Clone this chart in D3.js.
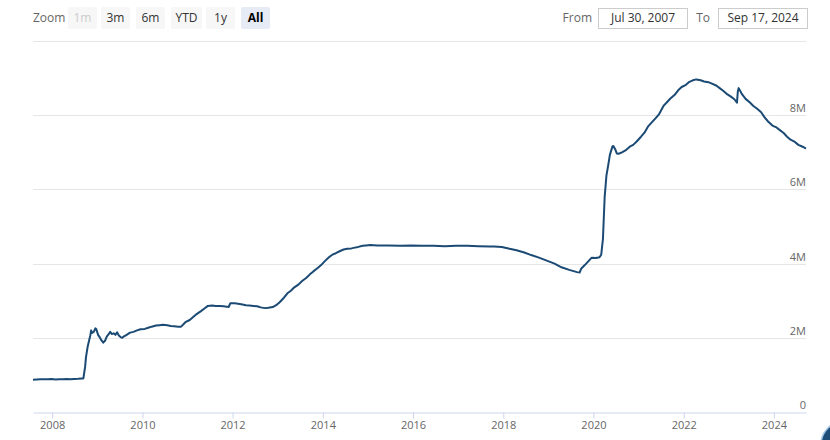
<!DOCTYPE html>
<html>
<head>
<meta charset="utf-8">
<script src="https://cdn.jsdelivr.net/npm/d3@7"></script>
<style>
  html, body { margin: 0; padding: 0; background: #ffffff; overflow: hidden; }
  svg { display: block; font-family: "Open Sans", "DejaVu Sans", sans-serif; }
</style>
</head>
<body>
<svg id="chart" width="830" height="440"></svg>
<script>
// ---- Data: Fed total assets (millions of USD) ----
const dates = [
  "2007-07-30","2007-08-29","2007-09-26","2007-10-31","2007-11-28","2007-12-26",
  "2008-01-30","2008-02-27","2008-03-26","2008-04-30","2008-05-28","2008-06-25",
  "2008-07-30","2008-08-27","2008-09-10","2008-09-17","2008-09-24","2008-10-01",
  "2008-10-15","2008-10-29","2008-11-05","2008-11-12","2008-11-19","2008-12-03",
  "2008-12-17","2008-12-24","2009-01-07","2009-01-21","2009-02-04","2009-02-18",
  "2009-03-04","2009-03-18","2009-04-01","2009-04-15","2009-04-29","2009-05-13",
  "2009-05-27","2009-06-10","2009-06-24","2009-07-08","2009-07-22","2009-08-05",
  "2009-08-26","2009-09-23","2009-10-21","2009-11-18","2009-12-16",
  "2010-01-20","2010-02-17","2010-03-17","2010-04-21","2010-05-19","2010-06-16",
  "2010-07-21","2010-08-18","2010-09-15","2010-10-20","2010-11-10","2010-12-15",
  "2011-01-19","2011-02-16","2011-03-16","2011-04-20","2011-05-18","2011-06-15",
  "2011-07-20","2011-08-17","2011-09-21","2011-10-19","2011-11-16","2011-11-30",
  "2011-12-14","2012-01-18","2012-02-15","2012-03-21","2012-04-18","2012-05-16",
  "2012-06-20","2012-07-18","2012-08-15","2012-09-19","2012-10-17","2012-11-21",
  "2012-12-19","2013-01-16","2013-02-20","2013-03-20","2013-04-17","2013-05-15",
  "2013-06-19","2013-07-17","2013-08-21","2013-09-18","2013-10-16","2013-11-20",
  "2013-12-18","2014-01-15","2014-02-19","2014-03-19","2014-04-16","2014-05-21",
  "2014-06-18","2014-07-16","2014-08-20","2014-09-17","2014-10-15","2014-11-19",
  "2014-12-17","2015-01-21","2015-03-18","2015-06-17","2015-09-16","2015-12-16",
  "2016-03-16","2016-06-15","2016-09-14","2016-12-14","2017-03-15","2017-06-14",
  "2017-09-13","2017-10-18","2017-12-20","2018-02-21","2018-04-18","2018-06-20",
  "2018-08-15","2018-10-17","2018-12-19","2019-02-20","2019-04-17","2019-06-19",
  "2019-08-21","2019-09-11","2019-09-25","2019-10-23","2019-11-20","2019-12-18",
  "2020-01-22","2020-02-19","2020-03-04","2020-03-18","2020-03-25","2020-04-01",
  "2020-04-08","2020-04-15","2020-04-29","2020-05-13","2020-06-03","2020-06-10",
  "2020-06-24","2020-07-08","2020-07-22","2020-08-19","2020-09-16","2020-10-21",
  "2020-11-18","2020-12-16","2021-01-20","2021-02-17","2021-03-17","2021-04-21",
  "2021-05-19","2021-06-16","2021-07-21","2021-08-18","2021-09-15","2021-10-20",
  "2021-11-17","2021-12-15","2022-01-19","2022-02-16","2022-03-16","2022-04-13",
  "2022-05-18","2022-06-15","2022-07-20","2022-08-17","2022-09-21","2022-10-19",
  "2022-11-16","2022-12-21","2023-01-18","2023-02-15","2023-03-08","2023-03-15",
  "2023-03-22","2023-04-19","2023-05-17","2023-06-21","2023-07-19","2023-08-16",
  "2023-09-20","2023-10-18","2023-11-15","2023-12-20","2024-01-17","2024-02-21",
  "2024-03-20","2024-04-17","2024-05-15","2024-06-19","2024-07-17","2024-08-21",
  "2024-09-11","2024-09-17"
];
const totalAssets = [
  869000,875000,880000,885000,880000,888000,
  878000,886000,885000,889000,885000,890000,
  894000,903000,906000,1065000,1215000,1480000,
  1767000,1970000,2064000,2200000,2130000,2160000,
  2256000,2230000,2080000,2010000,1930000,1870000,
  1920000,2030000,2090000,2160000,2100000,2120000,
  2080000,2150000,2060000,2020000,2000000,2040000,
  2080000,2140000,2160000,2200000,2230000,
  2240000,2270000,2300000,2330000,2340000,2350000,
  2340000,2320000,2310000,2300000,2300000,2420000,
  2480000,2560000,2640000,2720000,2790000,2860000,
  2870000,2860000,2860000,2850000,2840000,2830000,
  2930000,2930000,2920000,2900000,2880000,2870000,
  2860000,2850000,2820000,2800000,2810000,2830000,
  2880000,2960000,3080000,3200000,3270000,3360000,
  3440000,3530000,3620000,3710000,3790000,3880000,
  3960000,4060000,4170000,4240000,4280000,4340000,
  4380000,4400000,4410000,4430000,4450000,4480000,
  4490000,4500000,4490000,4490000,4480000,4490000,
  4480000,4480000,4470000,4480000,4480000,4470000,
  4460000,4460000,4450000,4400000,4360000,4300000,
  4230000,4160000,4080000,4000000,3900000,3830000,
  3770000,3760000,3870000,3960000,4060000,4160000,
  4150000,4170000,4240000,4670000,5250000,5810000,
  6080000,6370000,6640000,6930000,7160000,7170000,
  7090000,6970000,6960000,7000000,7050000,7150000,
  7200000,7290000,7420000,7530000,7690000,7820000,
  7920000,8030000,8250000,8350000,8450000,8550000,
  8670000,8760000,8820000,8900000,8940000,8965000,
  8940000,8910000,8890000,8850000,8800000,8730000,
  8660000,8560000,8500000,8430000,8340000,8640000,
  8730000,8560000,8440000,8340000,8250000,8180000,
  8080000,7940000,7830000,7720000,7680000,7590000,
  7520000,7420000,7340000,7280000,7200000,7150000,
  7110000,7100000
];
const yTicks = [0, 2000000, 4000000, 6000000, 8000000, 10000000];
const yTickLabels = ["0", "2M", "4M", "6M", "8M", ""];
const xTickYears = [2008, 2010, 2012, 2014, 2016, 2018, 2020, 2022, 2024];
const zoomButtons = ["1m", "3m", "6m", "YTD", "1y", "All"];
const fromDate = "Jul 30, 2007";
const toDate = "Sep 17, 2024";

// ---- Drawing ----
const svg = d3.select("#chart");
const parse = d3.timeParse("%Y-%m-%d");
const series = dates.map((d, i) => ({ date: parse(d), value: totalAssets[i] }));

const x = d3.scaleTime()
  .domain([parse("2007-07-30"), parse("2024-09-17")])
  .range([33, 806]);
const y = d3.scaleLinear()
  .domain([0, 10000000])
  .range([412, 41]);

// grid lines
const grid = svg.append("g");
grid.selectAll("line")
  .data(yTicks.filter(v => v > 0))
  .enter().append("line")
  .attr("x1", 33).attr("x2", 806)
  .attr("y1", d => Math.round(y(d)) + 0.5)
  .attr("y2", d => Math.round(y(d)) + 0.5)
  .attr("stroke", "#e6e6e6").attr("stroke-width", 1);

// y labels (right side, above grid line)
svg.append("g").selectAll("text")
  .data(yTicks)
  .enter().append("text")
  .attr("x", 806)
  .attr("y", d => Math.round(y(d)) - 3)
  .attr("text-anchor", "end")
  .attr("font-size", 11)
  .attr("fill", "#666666")
  .text((d, i) => yTickLabels[i]);

// x axis
const xAxis = d3.axisBottom(x)
  .tickValues(xTickYears.map(yr => new Date(yr, 0, 1)))
  .tickFormat(d3.timeFormat("%Y"))
  .tickSize(6)
  .tickSizeOuter(0);
const xg = svg.append("g")
  .attr("transform", "translate(0,412.5)")
  .call(xAxis);
xg.select(".domain").attr("stroke", "#ccd6eb");
xg.selectAll(".tick line").attr("stroke", "#ccd6eb");
xg.selectAll(".tick text")
  .attr("fill", "#666666")
  .attr("font-size", 11)
  .attr("font-family", "\"Open Sans\", sans-serif")
  .attr("dy", "0.71em")
  .attr("y", 9);

// line
const line = d3.line()
  .x(d => x(d.date))
  .y(d => y(d.value));
svg.append("path")
  .datum(series)
  .attr("fill", "none")
  .attr("stroke", "#1b4a74")
  .attr("stroke-width", 2)
  .attr("stroke-linejoin", "round")
  .attr("d", line);

// Zoom selector
const header = svg.append("g");
header.append("text")
  .attr("x", 33).attr("y", 22)
  .attr("font-size", 12).attr("fill", "#666666")
  .text("Zoom");
const btnX = [68, 101, 136, 171, 206, 241];
const btnW = [29, 29, 29, 31, 29, 29];
zoomButtons.forEach((b, i) => {
  const g = header.append("g");
  const selected = b === "All";
  const disabled = b === "1m";
  g.append("rect")
    .attr("x", btnX[i]).attr("y", 7)
    .attr("width", btnW[i]).attr("height", 22)
    .attr("rx", 2)
    .attr("fill", selected ? "#e6ebf5" : "#f7f7f7");
  g.append("text")
    .attr("x", btnX[i] + btnW[i] / 2).attr("y", 22)
    .attr("text-anchor", "middle")
    .attr("font-size", 12)
    .attr("font-weight", selected ? "bold" : "normal")
    .attr("fill", disabled ? "#cccccc" : (selected ? "#000000" : "#333333"))
    .text(b);
});

// Date range inputs
header.append("text")
  .attr("x", 592).attr("y", 22)
  .attr("text-anchor", "end")
  .attr("font-size", 12).attr("fill", "#666666")
  .text("From");
header.append("rect")
  .attr("x", 598.5).attr("y", 8.5).attr("width", 89).attr("height", 20)
  .attr("fill", "#ffffff").attr("stroke", "#cccccc");
header.append("text")
  .attr("x", 643).attr("y", 22)
  .attr("text-anchor", "middle")
  .attr("font-size", 12).attr("fill", "#333333")
  .text(fromDate);
header.append("text")
  .attr("x", 710).attr("y", 22)
  .attr("text-anchor", "end")
  .attr("font-size", 12).attr("fill", "#666666")
  .text("To");
header.append("rect")
  .attr("x", 718.5).attr("y", 8.5).attr("width", 89).attr("height", 20)
  .attr("fill", "#ffffff").attr("stroke", "#cccccc");
header.append("text")
  .attr("x", 763).attr("y", 22)
  .attr("text-anchor", "middle")
  .attr("font-size", 12).attr("fill", "#333333")
  .text(toDate);

// corner badge (partially visible)
svg.append("circle")
  .attr("cx", 845).attr("cy", 445).attr("r", 24)
  .attr("fill", "#1f4e79")
  .attr("stroke", "#9fc3e6").attr("stroke-width", 1.5);
</script>
</body>
</html>
